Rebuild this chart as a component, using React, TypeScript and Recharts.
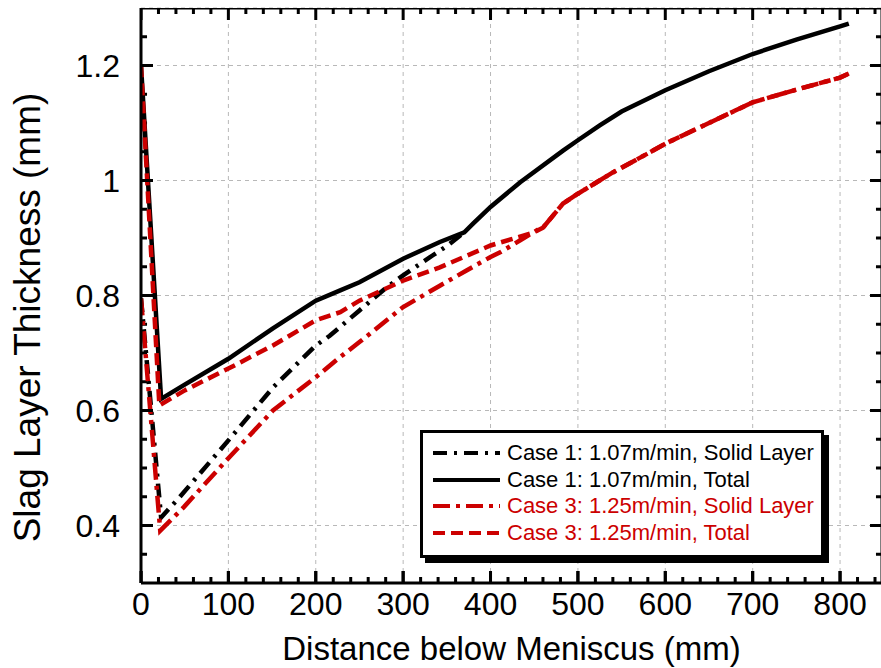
import React from 'react';
import { LineChart, Line, XAxis, YAxis, CartesianGrid } from 'recharts';

const FONT = '"Liberation Sans", Arial, Helvetica, sans-serif';
const BLACK = '#000000';
const RED = '#cc0000';

// Case 1: 1.07 m/min, Solid Layer
const case1SolidX = [0, 23, 44, 100, 151, 200, 216, 250, 281, 300, 334, 351, 370];
const case1SolidY = [0.795, 0.414, 0.449, 0.548, 0.64, 0.713, 0.73, 0.774, 0.814, 0.835, 0.87, 0.887, 0.91];

// Case 1: 1.07 m/min, Total
const case1TotalX = [0, 23, 50, 100, 151, 200, 228, 250, 300, 342, 370, 380, 400, 434, 483, 500, 525, 550, 600, 650, 700, 750, 800, 810];
const case1TotalY = [1.2, 0.62, 0.645, 0.69, 0.743, 0.791, 0.809, 0.823, 0.864, 0.893, 0.91, 0.925, 0.954, 0.997, 1.052, 1.07, 1.096, 1.12, 1.157, 1.19, 1.22, 1.245, 1.268, 1.273];

// Case 3: 1.25 m/min, Solid Layer
const case3SolidX = [0, 22, 49, 100, 151, 200, 228, 250, 300, 342, 373, 400, 411, 434, 456, 460, 483, 500, 540, 586, 600, 650, 700, 750, 800, 810];
const case3SolidY = [0.795, 0.391, 0.432, 0.517, 0.6, 0.658, 0.693, 0.719, 0.78, 0.817, 0.844, 0.867, 0.875, 0.896, 0.916, 0.918, 0.96, 0.977, 1.014, 1.052, 1.064, 1.1, 1.136, 1.158, 1.179, 1.186];

// Case 3: 1.25 m/min, Total
const case3TotalX = [0, 21, 50, 100, 151, 200, 228, 250, 300, 342, 400, 450, 460, 483, 500, 540, 586, 600, 650, 700, 750, 800, 810];
const case3TotalY = [1.2, 0.609, 0.635, 0.673, 0.713, 0.757, 0.771, 0.791, 0.826, 0.849, 0.887, 0.91, 0.918, 0.96, 0.977, 1.014, 1.052, 1.064, 1.1, 1.136, 1.158, 1.179, 1.186];

// Axis domains and ticks
const xDomain = [0, 848];
const yDomain = [0.3, 1.3];
const xMajorTicks = [0, 100, 200, 300, 400, 500, 600, 700, 800];
const xAllTicks = [0, 20, 40, 60, 80, 100, 120, 140, 160, 180, 200, 220, 240, 260, 280, 300, 320, 340, 360, 380, 400, 420, 440, 460, 480, 500, 520, 540, 560, 580, 600, 620, 640, 660, 680, 700, 720, 740, 760, 780, 800, 820, 840];
const yMajorTicks = [0.4, 0.6, 0.8, 1.0, 1.2];
const yTickLabels = ['0.4', '0.6', '0.8', '1', '1.2'];
const yAllTicks = [0.35, 0.4, 0.45, 0.5, 0.55, 0.6, 0.65, 0.7, 0.75, 0.8, 0.85, 0.9, 0.95, 1.0, 1.05, 1.1, 1.15, 1.2, 1.25];

const seriesNames = [
  'Case 1: 1.07m/min, Solid Layer',
  'Case 1: 1.07m/min, Total',
  'Case 3: 1.25m/min, Solid Layer',
  'Case 3: 1.25m/min, Total',
];

const toPoints = (xs: number[], ys: number[]) => xs.map((x, i) => ({ x, y: ys[i] }));
const case1Solid = toPoints(case1SolidX, case1SolidY);
const case1Total = toPoints(case1TotalX, case1TotalY);
const case3Solid = toPoints(case3SolidX, case3SolidY);
const case3Total = toPoints(case3TotalX, case3TotalY);

const DASH_C1_SOLID = '14 7 3 7';
const DASH_C3_SOLID = '17 6 4 6';
const DASH_C3_TOTAL = '12 6';
const LINE_W = 4.5;

const legendItems = [
  { label: seriesNames[0], color: BLACK, dash: DASH_C1_SOLID },
  { label: seriesNames[1], color: BLACK, dash: undefined },
  { label: seriesNames[2], color: RED, dash: DASH_C3_SOLID },
  { label: seriesNames[3], color: RED, dash: DASH_C3_TOTAL },
];

const isIn = (arr: number[], v: number) => arr.some((m) => Math.abs(m - v) < 1e-6);

// inward tick-mark lengths in data units of the crossing axis (about 12 px / 6 px)
const X_TICK_MAJOR = 0.021;
const X_TICK_MINOR = 0.0105;
const Y_TICK_MAJOR = 13.7;
const Y_TICK_MINOR = 6.9;

type P = { x: number; y: number | null };
const xTickSegments = (base: number, sign: number): P[] =>
  xAllTicks.flatMap((v) => [
    { x: v, y: base },
    { x: v, y: base + sign * (isIn(xMajorTicks, v) ? X_TICK_MAJOR : X_TICK_MINOR) },
    { x: v, y: null },
  ]);
const yTickSegments = (base: number, sign: number): P[] =>
  yAllTicks.flatMap((v) => {
    const end = base + sign * (isIn(yMajorTicks, v) ? Y_TICK_MAJOR : Y_TICK_MINOR);
    return [
      { x: base, y: v },
      { x: end, y: v },
      { x: end, y: null },
    ];
  });

// one polyline (broken by nulls) for the frame's top/right edges and all inward tick marks
const frameMarks: P[] = [
  ...xTickSegments(yDomain[0], 1),
  ...xTickSegments(yDomain[1], -1),
  ...yTickSegments(xDomain[0], 1),
  ...yTickSegments(xDomain[1], -1),
  { x: xDomain[0], y: yDomain[1] },
  { x: xDomain[1], y: yDomain[1] },
  { x: xDomain[1], y: yDomain[0] },
];

const BottomTick = (props: any) => {
  const { x, y, payload } = props;
  const v = payload.value;
  return (
    <g>
      <line x1={x} x2={x} y1={y} y2={y - 12} stroke={BLACK} strokeWidth={3} />
      <text x={x} y={y + 32} textAnchor="middle" fontSize={32} fontFamily={FONT} fill={BLACK}>
        {String(v)}
      </text>
    </g>
  );
};

const LeftTick = (props: any) => {
  const { x, y, payload } = props;
  const idx = yMajorTicks.findIndex((m) => Math.abs(m - payload.value) < 1e-6);
  return (
    <g>
      <line x1={x} x2={x + 12} y1={y} y2={y} stroke={BLACK} strokeWidth={3} />
      <text x={x - 21} y={y + 11} textAnchor="end" fontSize={32} fontFamily={FONT} fill={BLACK}>
        {idx >= 0 ? yTickLabels[idx] : ''}
      </text>
    </g>
  );
};

const YLabel = (props: any) => {
  const vb = props.viewBox || { x: 0, y: 8, width: 141, height: 575 };
  const cx = vb.x + 40;
  const cy = vb.y + vb.height / 2 + 22;
  return (
    <text x={cx} y={cy} textAnchor="middle" fontSize={37} fontFamily={FONT} fill={BLACK} transform={`rotate(-90, ${cx}, ${cy})`}>
      Slag Layer Thickness (mm)
    </text>
  );
};

const XLabel = (props: any) => {
  const vb = props.viewBox || { x: 141, y: 583, width: 741, height: 85 };
  return (
    <text x={vb.x + vb.width / 2} y={vb.y + 77} textAnchor="middle" fontSize={33} fontFamily={FONT} fill={BLACK}>
      Distance below Meniscus (mm)
    </text>
  );
};

const LegendBox = () => (
  <div
    style={{
      position: 'absolute',
      left: 420,
      top: 430,
      width: 404,
      height: 128,
      boxSizing: 'border-box',
      border: '3px solid #000',
      boxShadow: '5px 5px 0 #000',
      background: '#fff',
      fontFamily: FONT,
    }}
  >
    {legendItems.map((item, i) => (
      <div
        key={i}
        style={{ position: 'absolute', left: 10, top: 7 + i * 26.7, height: 26, display: 'flex', alignItems: 'center' }}
      >
        <svg width={68} height={26} style={{ display: 'block' }}>
          <line x1={0} x2={67} y1={13} y2={13} stroke={item.color} strokeWidth={4} strokeDasharray={item.dash} />
        </svg>
        <span style={{ marginLeft: 6, fontSize: 22, color: item.color, whiteSpace: 'nowrap', lineHeight: '26px' }}>
          {item.label}
        </span>
      </div>
    ))}
  </div>
);

export default function App() {
  return (
    <div style={{ position: 'absolute', left: 0, top: 0, width: 881, height: 668, overflow: 'hidden', background: '#fff' }}>
      <LineChart width={883} height={668} margin={{ top: 8, right: 1, left: 0, bottom: 0 }}>
        <XAxis
          xAxisId="b"
          type="number"
          dataKey="x"
          domain={xDomain}
          allowDataOverflow
          ticks={xMajorTicks}
          interval={0}
          height={85}
          tickSize={0}
          tickMargin={0}
          tickLine={false}
          axisLine={{ stroke: BLACK, strokeWidth: 3 }}
          tick={<BottomTick />}
          label={(p: any) => <XLabel {...p} />}
        />
        <YAxis
          yAxisId="l"
          type="number"
          domain={yDomain}
          allowDataOverflow
          ticks={yMajorTicks}
          interval={0}
          width={141}
          tickSize={0}
          tickMargin={0}
          tickLine={false}
          axisLine={{ stroke: BLACK, strokeWidth: 3 }}
          tick={<LeftTick />}
          label={(p: any) => <YLabel {...p} />}
        />
        <CartesianGrid xAxisId="b" yAxisId="l" stroke="#b8b8b8" strokeWidth={1} strokeDasharray="4 4" />
        <Line
          xAxisId="b"
          yAxisId="l"
          data={frameMarks}
          dataKey="y"
          stroke={BLACK}
          strokeWidth={3}
          dot={false}
          isAnimationActive={false}
        />
        <Line
          xAxisId="b"
          yAxisId="l"
          data={case1Total}
          dataKey="y"
          name={seriesNames[1]}
          stroke={BLACK}
          strokeWidth={LINE_W}
          dot={false}
          isAnimationActive={false}
        />
        <Line
          xAxisId="b"
          yAxisId="l"
          data={case1Solid}
          dataKey="y"
          name={seriesNames[0]}
          stroke={BLACK}
          strokeWidth={LINE_W}
          strokeDasharray={DASH_C1_SOLID}
          dot={false}
          isAnimationActive={false}
        />
        <Line
          xAxisId="b"
          yAxisId="l"
          data={case3Total}
          dataKey="y"
          name={seriesNames[3]}
          stroke={RED}
          strokeWidth={LINE_W}
          strokeDasharray={DASH_C3_TOTAL}
          dot={false}
          isAnimationActive={false}
        />
        <Line
          xAxisId="b"
          yAxisId="l"
          data={case3Solid}
          dataKey="y"
          name={seriesNames[2]}
          stroke={RED}
          strokeWidth={LINE_W}
          strokeDasharray={DASH_C3_SOLID}
          dot={false}
          isAnimationActive={false}
        />
      </LineChart>
      <LegendBox />
    </div>
  );
}
